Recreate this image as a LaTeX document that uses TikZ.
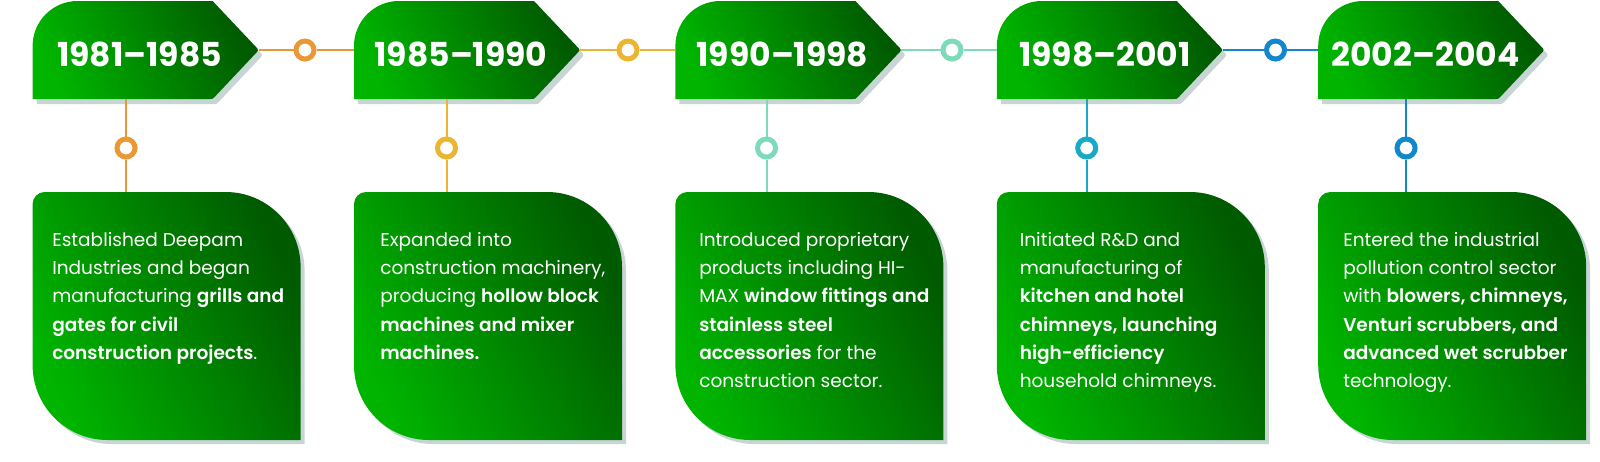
\documentclass[tikz,border=0pt]{standalone}
\usepackage{fontspec}
\setmainfont{Poppins}[BoldFont={Poppins SemiBold}]
\newfontfamily\yearfont{Poppins Bold}
\definecolor{gbright}{RGB}{0,180,0}
\definecolor{gdark}{RGB}{0,90,0}
\definecolor{shadowc}{RGB}{200,213,213}
\definecolor{corange}{RGB}{234,152,54}
\definecolor{cyellow}{RGB}{235,180,49}
\definecolor{cmint}{RGB}{125,219,185}
\definecolor{cteal}{RGB}{23,169,198}
\definecolor{cblue}{RGB}{19,135,203}
\tikzset{
 hdrshape/.style={insert path={(#1,99) -- (#1,46) .. controls (#1,21.2) and ({#1+20.1},1) .. ({#1+45},1) -- ({#1+180},1) -- ({#1+222},45.5) .. controls ({#1+226.5},50) .. ({#1+222},54.5) -- ({#1+182},97) .. controls ({#1+180},99) .. ({#1+177},99) -- cycle}},
 boxshape/.style={insert path={(#1,204) .. controls (#1,197.4) and ({#1+5.4},192) .. ({#1+12},192) -- ({#1+193},192) .. controls ({#1+234.4},192) and ({#1+268},225.6) .. ({#1+268},267) -- ({#1+268},440) -- ({#1+75},440) .. controls ({#1+33.6},440) and (#1,406.4) .. (#1,365) -- cycle}},
 greenfill/.style={left color=gbright, right color=gdark, shading angle=115},
 yeartext/.style={text=white, font=\yearfont\fontsize{24.75pt}{28pt}\selectfont, inner sep=0},
 bodytext/.style={text=white, font=\fontsize{13.9pt}{21.2pt}\selectfont, align=left, anchor=north west, inner sep=0},
 ring/.style={circle, draw=#1, fill=white, line width=3.75pt, minimum size=13.5pt, inner sep=0},
 conn/.style={draw=#1, line width=1.5pt},
}
\begin{document}
\begin{tikzpicture}[x=0.75pt,y=-0.75pt]
\useasboundingbox (0,0) rectangle (1600,461);
% shapes
\foreach \L/\vx [count=\i] in {32.6/126, 354/446.5, 675.4/766.5, 996.8/1086.7, 1318.2/1406}{
  \fill[shadowc, shift={(4,5)}, hdrshape=\L];
  \shade[greenfill, hdrshape=\L];
  \fill[shadowc, shift={(4,4)}, boxshape=\L];
  \shade[greenfill, boxshape=\L];
  \coordinate (tip\i) at ({\L+226},50);
  \coordinate (left\i) at (\L,50);
  \coordinate (hb\i) at (\vx,99);
  \coordinate (bt\i) at (\vx,192);
  \coordinate (vr\i) at (\vx,148);
}
% rings
\node[ring=corange] (hc1) at (305,50) {};
\node[ring=cyellow] (hc2) at (628,50) {};
\node[ring=cmint]   (hc3) at (952,50) {};
\node[ring=cblue]   (hc4) at (1275.5,50) {};
\node[ring=corange] (vc1) at (vr1) {};
\node[ring=cyellow] (vc2) at (vr2) {};
\node[ring=cmint]   (vc3) at (vr3) {};
\node[ring=cteal]   (vc4) at (vr4) {};
\node[ring=cblue]   (vc5) at (vr5) {};
% connectors
\draw[conn=corange] (tip1) -- (hc1) -- (left2);
\draw[conn=cyellow] (tip2) -- (hc2) -- (left3);
\draw[conn=cmint]   (tip3) -- (hc3) -- (left4);
\draw[conn=cblue]   (tip4) -- (hc4) -- (left5);
\draw[conn=corange] (hb1) -- (vc1) -- (bt1);
\draw[conn=cyellow] (hb2) -- (vc2) -- (bt2);
\draw[conn=cmint]   (hb3) -- (vc3) -- (bt3);
\draw[conn=cteal]   (hb4) -- (vc4) -- (bt4);
\draw[conn=cblue]   (hb5) -- (vc5) -- (bt5);
% years
\node[yeartext] (y1) at (139.6,54.5) {1981–1985};
\node[yeartext] (y2) at (461,54.5) {1985–1990};
\node[yeartext] (y3) at (782.4,54.5) {1990–1998};
\node[yeartext] (y4) at (1104.8,54.5) {1998–2001};
\node[yeartext] (y5) at (1425.5,54.5) {2002–2004};
% texts
\node[bodytext] (t1) at (52,232) {Established Deepam\\Industries and began\\manufacturing \textbf{grills and}\\\textbf{gates for civil}\\\textbf{construction projects}.};
\node[bodytext] (t2) at (380,232) {Expanded into\\construction machinery,\\producing \textbf{hollow block}\\\textbf{machines and mixer}\\\textbf{machines.}};
\node[bodytext] (t3) at (699,232) {Introduced proprietary\\products including HI-\\MAX \textbf{window fittings and}\\\textbf{stainless steel}\\\textbf{accessories} for the\\construction sector.};
\node[bodytext] (t4) at (1019.5,232) {Initiated R\&D and\\manufacturing of\\\textbf{kitchen and hotel}\\\textbf{chimneys, launching}\\\textbf{high-efficiency}\\household chimneys.};
\node[bodytext] (t5) at (1343,232) {Entered the industrial\\pollution control sector\\with \textbf{blowers, chimneys,}\\\textbf{Venturi scrubbers, and}\\\textbf{advanced wet scrubber}\\technology.};
\end{tikzpicture}
\end{document}
